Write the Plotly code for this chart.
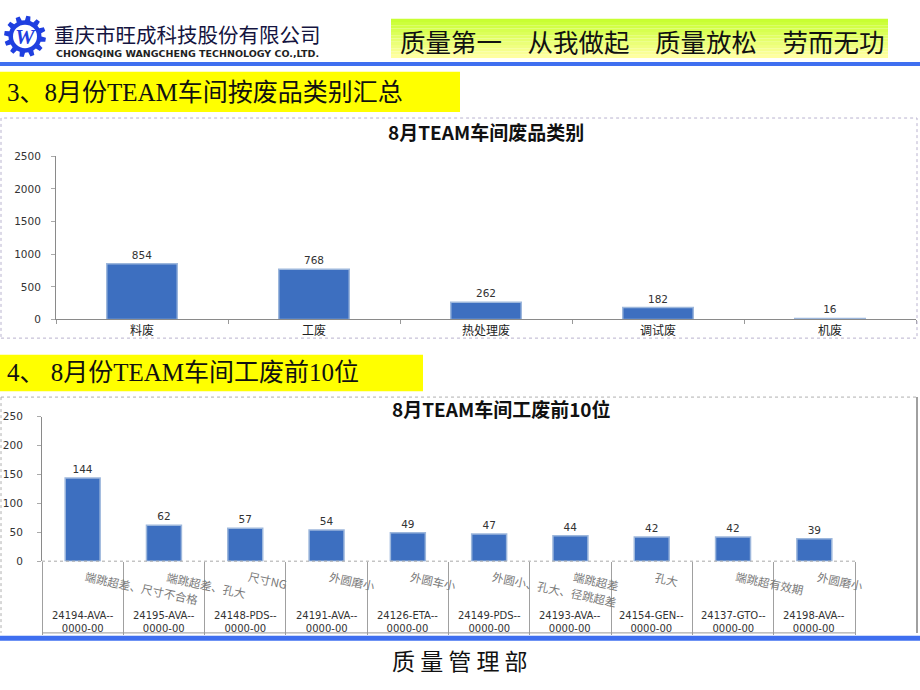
import plotly.graph_objects as go
import numpy as np

W, H = 920, 690

# ---------------- data ----------------
cat1 = ["料废", "工废", "热处理废", "调试废", "机废"]
val1 = [854, 768, 262, 182, 16]
y1_ticks = [0, 500, 1000, 1500, 2000, 2500]

part2 = ["24194-AVA--", "24195-AVA--", "24148-PDS--", "24191-AVA--", "24126-ETA--",
         "24149-PDS--", "24193-AVA--", "24154-GEN--", "24137-GTO--", "24198-AVA--"]
part2_suffix = ["0000-00"] * 10
defect2 = ["端跳超差、尺寸不合格", "端跳超差、孔大", "尺寸NG", "外圆磨小", "外圆车小",
           "外圆小、孔大、径跳超差", "端跳超差", "孔大", "端跳超有效期", "外圆磨小"]
val2 = [144, 62, 57, 54, 49, 47, 44, 42, 42, 39]
y2_ticks = [0, 50, 100, 150, 200, 250]

CJK = "Noto Sans CJK SC"
SERIF = "Liberation Serif, Noto Sans CJK SC"


def px(x):
    return x / W


def py(y):
    return 1 - y / H


BAR = "#3d6fc0"
BAR_EDGE = "#9db7dc"

fig = go.Figure()

fig.add_trace(go.Bar(
    x=cat1, y=val1, xaxis="x", yaxis="y", width=0.41,
    marker=dict(color=BAR, line=dict(color=BAR_EDGE, width=1.5)),
    text=[str(v) for v in val1], textposition="outside",
    textfont=dict(family="DejaVu Sans", size=10.5, color="#333"),
    cliponaxis=False, hoverinfo="x+y"))

fig.add_trace(go.Bar(
    x=part2, y=val2, xaxis="x2", yaxis="y2", width=0.43,
    marker=dict(color=BAR, line=dict(color=BAR_EDGE, width=1.5)),
    text=[str(v) for v in val2], textposition="outside",
    textfont=dict(family="DejaVu Sans", size=10.5, color="#333"),
    cliponaxis=False, hoverinfo="x+y"))

shapes = []
annotations = []


def note(text, x, y, size, family=CJK, color="#111", xanchor="center", yanchor="middle", **kw):
    d = dict(text=text, x=x, y=y, xref=kw.pop("xref", "paper"), yref=kw.pop("yref", "paper"),
             xanchor=xanchor, yanchor=yanchor, showarrow=False,
             font=dict(family=family, size=size, color=color))
    d.update(kw)
    annotations.append(d)


# ---- header: logo gear ----
cx, cy, R1, R2, nt = 25, 31, 21, 16.5, 12
pts = []
for k in range(nt):
    a0 = 2 * np.pi * k / nt
    step = 2 * np.pi / nt
    for frac, r in [(0.0, R2), (0.12, R1), (0.5, R1), (0.62, R2)]:
        a = a0 + frac * step
        pts.append((cx + r * np.cos(a), cy + r * np.sin(a)))
path = "M " + " L ".join(f"{px(x):.5f},{py(y):.5f}" for x, y in pts) + " Z"
shapes.append(dict(type="path", xref="paper", yref="paper", path=path,
                   fillcolor="#1f3fe0", line=dict(width=0)))
shapes.append(dict(type="circle", xref="paper", yref="paper",
                   x0=px(cx - 12), x1=px(cx + 12), y0=py(cy + 12), y1=py(cy - 12),
                   fillcolor="white", line=dict(width=0)))
note("<i><b>W</b></i>", px(cx), py(cy), 22, family="Liberation Serif", color="#1f3fe0")

note("重庆市旺成科技股份有限公司", px(52), py(29), 20.5, color="#141440", xanchor="left")
note("<b>CHONGQING WANGCHENG TECHNOLOGY CO.,LTD.</b>", px(54), py(48), 9.5,
     family="DejaVu Sans", color="#222", xanchor="left")

# ---- slogan box with gradient ----
n = 12
top, bot = 13, 53
c0, c1 = np.array([200, 255, 50]), np.array([255, 255, 160])
for i in range(n):
    t = i / (n - 1)
    c = (c0 * (1 - t) + c1 * t).astype(int)
    shapes.append(dict(type="rect", xref="paper", yref="paper",
                       x0=px(391), x1=px(888),
                       y0=py(top + (bot - top) * (i + 1) / n), y1=py(top + (bot - top) * i / n),
                       fillcolor=f"rgb({c[0]},{c[1]},{c[2]})", line=dict(width=0)))
note("质量第一　从我做起　质量放松　劳而无功", px(642), py(35), 25.5)

# top blue line
shapes.append(dict(type="rect", xref="paper", yref="paper", x0=0, x1=1, y0=py(61), y1=py(57),
                   fillcolor="#3f6ff0", line=dict(width=0)))

# ---- section 3 banner ----
shapes.append(dict(type="rect", xref="paper", yref="paper", x0=0, x1=px(460), y0=py(108), y1=py(67),
                   fillcolor="#ffff00", line=dict(width=0)))
note("3、8月份TEAM车间按废品类别汇总", px(5), py(88), 25, family=SERIF, xanchor="left")

# chart 1 frame
shapes.append(dict(type="rect", xref="paper", yref="paper", x0=px(1), x1=px(917), y0=py(338), y1=py(114),
                   line=dict(color="#b9b3cf", width=1, dash="dot"), fillcolor="rgba(0,0,0,0)"))
note("<b>8月TEAM车间废品类别</b>", px(486), py(128), 19)

# ---- section 4 banner ----
shapes.append(dict(type="rect", xref="paper", yref="paper", x0=0, x1=px(423), y0=py(392), y1=py(355),
                   fillcolor="#ffff00", line=dict(width=0)))
note("4、 8月份TEAM车间工废前10位", px(5), py(373), 25, family=SERIF, xanchor="left")

# chart 2 frame
shapes.append(dict(type="line", xref="paper", yref="paper", x0=px(1), x1=px(917), y0=py(398), y1=py(398),
                   line=dict(color="#b0b0b0", width=1, dash="dot")))
shapes.append(dict(type="line", xref="paper", yref="paper", x0=px(1), x1=px(1), y0=py(398), y1=py(638),
                   line=dict(color="#b0b0b0", width=1, dash="dot")))
shapes.append(dict(type="line", xref="paper", yref="paper", x0=px(917), x1=px(917), y0=py(398), y1=py(638),
                   line=dict(color="#808080", width=1.5)))
note("<b>8月TEAM车间工废前10位</b>", px(502), py(410), 19)

# table lines for chart 2
shapes.append(dict(type="line", xref="paper", yref="paper", x0=px(42), x1=px(855), y0=py(565), y1=py(565),
                   line=dict(color="#a8a8a8", width=1, dash="dot")))
shapes.append(dict(type="line", xref="paper", yref="paper", x0=px(42), x1=px(855), y0=py(638), y1=py(638),
                   line=dict(color="#999", width=1)))

for i, p in enumerate(part2):
    note(defect2[i], p, py(570), 11.5, color="#7a7a7a", xanchor="left", yanchor="top",
         xref="x2", xshift=-1, textangle=12)
    note(p + "<br>" + part2_suffix[i], p, py(627), 10, family="DejaVu Sans", color="#333",
         xref="x2", borderpad=0)

# bottom blue band and footer
shapes.append(dict(type="rect", xref="paper", yref="paper", x0=0, x1=1, y0=py(646), y1=py(641),
                   fillcolor="#3f6ff0", line=dict(width=0)))
note("质 量 管 理 部", px(460), py(666), 23)

fig.update_layout(
    width=W, height=H, margin=dict(l=0, r=0, t=0, b=0),
    paper_bgcolor="white", plot_bgcolor="rgba(0,0,0,0)",
    showlegend=False, bargap=0.5,
    shapes=shapes, annotations=annotations,
    xaxis=dict(domain=[px(56), px(916)], anchor="y", type="category", range=[-0.5, 4.5],
               showline=True, linecolor="#8a8a8a", linewidth=1,
               ticks="outside", tickson="boundaries", ticklen=4, tickcolor="#999",
               tickfont=dict(family=CJK, size=12, color="#222"), showgrid=False, fixedrange=True),
    yaxis=dict(domain=[py(319), py(153)], anchor="x", range=[0, 2500], tickvals=y1_ticks,
               showline=True, linecolor="#8a8a8a", linewidth=1, ticks="outside", ticklen=4,
               tickcolor="#aaa", showgrid=False, zeroline=False, ticklabelstandoff=8,
               tickfont=dict(family="DejaVu Sans", size=10.5, color="#333"), fixedrange=True),
    xaxis2=dict(domain=[px(42), px(855)], anchor="y2", type="category", range=[-0.5, 9.5],
                showline=False, ticks="outside", tickson="boundaries", ticklen=73, tickcolor="#a0a0a0",
                tickwidth=1, showticklabels=False, showgrid=False, fixedrange=True),
    yaxis2=dict(domain=[py(565), py(418)], anchor="x2", range=[0, 250], tickvals=y2_ticks,
                showline=True, linecolor="#8a8a8a", linewidth=1, ticks="outside", ticklen=4,
                tickcolor="#aaa", showgrid=False, zeroline=False, ticklabelstandoff=12,
                tickfont=dict(family="DejaVu Sans", size=10.5, color="#333"), fixedrange=True),
)

fig.write_html("out.html")
